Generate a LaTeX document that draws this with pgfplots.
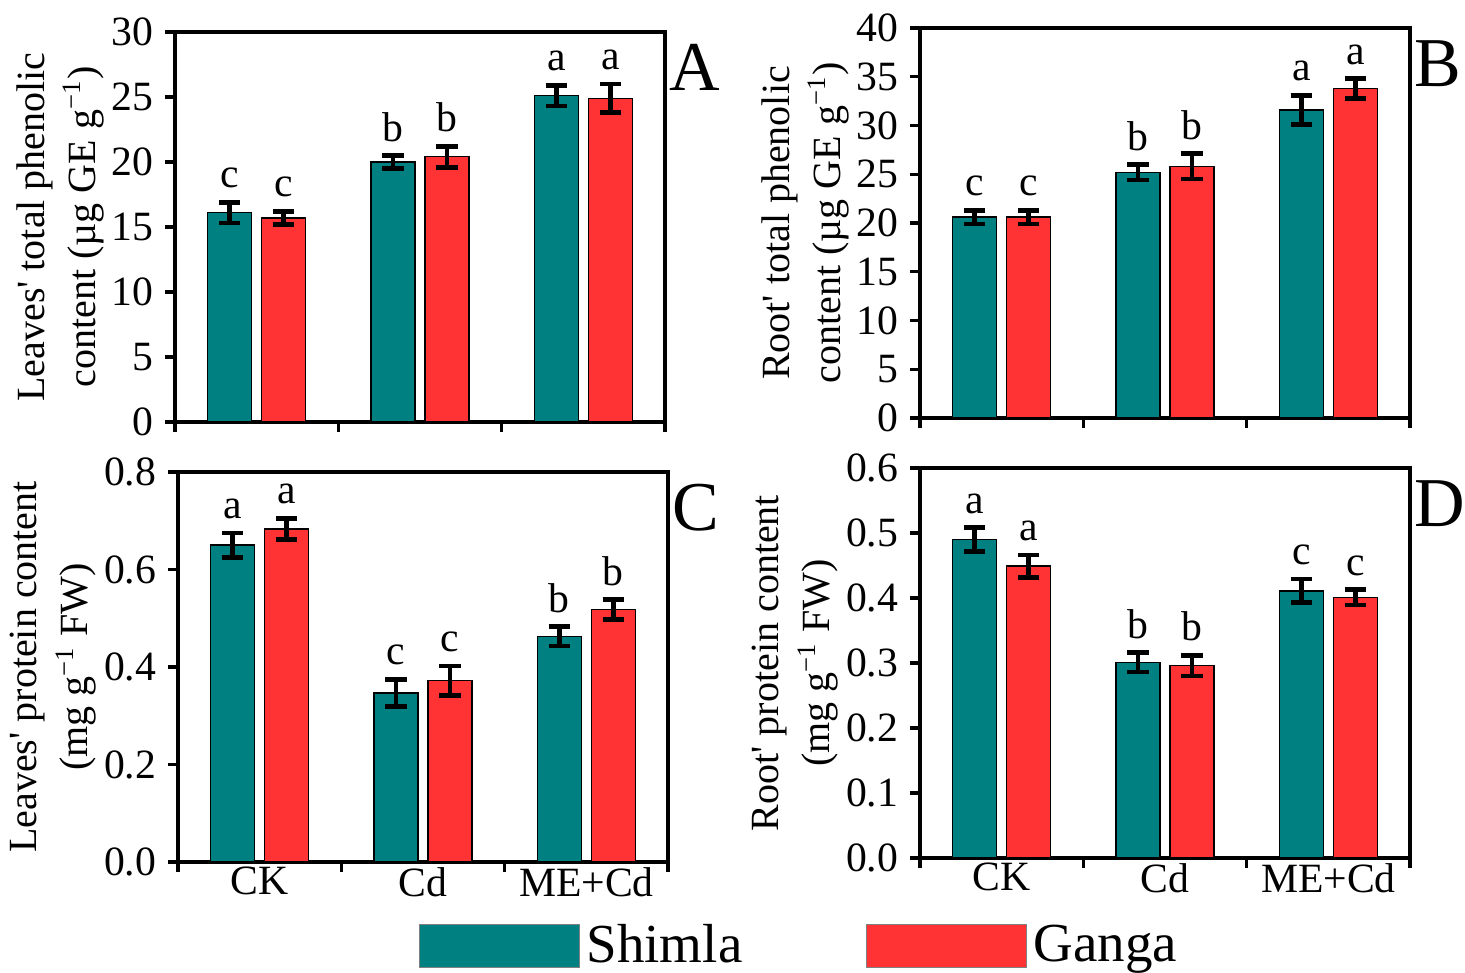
\documentclass[border=0pt]{standalone}
\usepackage{fontspec}
\setmainfont{Liberation Serif}
\usepackage{pgfplots}
\pgfplotsset{compat=1.18}
\definecolor{shimla}{RGB}{0,128,128}
\definecolor{ganga}{RGB}{255,51,51}

\pgfplotsset{
  panel/.style={
    scale only axis, width=147pt, height=117pt,
    ybar, bar width=0.27,
    xmin=0.5, xmax=3.5, ymin=0,
    axis line style={line width=1pt},
    every tick/.style={black, line width=1pt},
    major tick length=3pt,
    tick align=outside, xtick pos=bottom, ytick pos=left,
    xtick={0.5,1.5,2.5,3.5}, xticklabels={},
    tick label style={font=\fontsize{12.5}{14}\selectfont},
    /pgf/number format/assume math mode=true,
    ylabel style={font=\fontsize{12}{15.3}\selectfont, align=center},
    ylabel shift=-4.5pt,
    clip=false,
    error bars/y dir=both, error bars/y explicit,
    error bars/error bar style={line width=1.4pt, black},
    error bars/error mark options={rotate=90, mark size=3.2pt, line width=1.4pt, black},
  },
  catlabels/.style={
    extra x ticks={1,2,3}, extra x tick labels={CK,Cd,ME+Cd},
    extra x tick style={major tick length=0pt, tick label style={yshift=2pt}},
  },
  sh/.style={fill=shimla, draw=black, line width=0.4pt, bar shift=-0.165},
  ga/.style={fill=ganga, draw=black, line width=0.4pt, bar shift=0.165},
}
\newcommand{\lab}[3]{\node[anchor=south, inner sep=1.5pt, yshift=2.5pt, font=\fontsize{12.5}{14}\selectfont] at (axis cs:#1,#2) {#3};}
\newcommand{\panel}[1]{\node[anchor=north west, font=\fontsize{21}{24}\selectfont, inner sep=0pt] at (rel axis cs:1.008,0.97) {#1};}
\newcommand{\q}{\textquotesingle}

\begin{document}
\begin{tikzpicture}
\path[use as bounding box] (0,0) rectangle (439.5pt,291.9pt);

% A
\begin{axis}[panel, at={(52.5pt,165.3pt)}, anchor=south west,
  ymax=30, ytick={0,5,...,30},
  ylabel={Leaves\q{} total phenolic\\content (µg GE g\textsuperscript{−1})}]
\addplot[sh] coordinates {(1,16.1) +- (0,0.8) (2,20.0) +- (0,0.5) (3,25.1) +- (0,0.8)};
\addplot[ga] coordinates {(1,15.7) +- (0,0.5) (2,20.4) +- (0,0.8) (3,24.9) +- (0,1.1)};
\lab{0.835}{16.9}{c}\lab{1.165}{16.2}{c}
\lab{1.835}{20.5}{b}\lab{2.165}{21.2}{b}
\lab{2.835}{25.9}{a}\lab{3.165}{26.0}{a}
\panel{A}
\end{axis}

% B
\begin{axis}[panel, at={(276pt,166.5pt)}, anchor=south west,
  ymax=40, ytick={0,5,...,40},
  ylabel={Root\q{} total phenolic\\content (µg GE g\textsuperscript{−1})}]
\addplot[sh] coordinates {(1,20.6) +- (0,0.7) (2,25.2) +- (0,0.8) (3,31.6) +- (0,1.5)};
\addplot[ga] coordinates {(1,20.6) +- (0,0.7) (2,25.8) +- (0,1.3) (3,33.8) +- (0,1.0)};
\lab{0.835}{21.3}{c}\lab{1.165}{21.3}{c}
\lab{1.835}{26.0}{b}\lab{2.165}{27.1}{b}
\lab{2.835}{33.1}{a}\lab{3.165}{34.8}{a}
\panel{B}
\end{axis}

% C
\begin{axis}[panel, catlabels, at={(53.4pt,33.3pt)}, anchor=south west,
  ymax=0.8, ytick={0,0.2,...,0.8},
  yticklabel style={/pgf/number format/.cd, fixed, fixed zerofill, precision=1},
  ylabel={Leaves\q{} protein content\\(mg g\textsuperscript{−1} FW)},
  legend style={at={(1.272,-0.215)}, anchor=center, draw=none, fill=none,
    legend columns=2, font=\fontsize{16.5}{18}\selectfont,
    /tikz/every even column/.append style={column sep=35pt}},
]
\addplot[sh, legend image code/.code={\filldraw[fill=shimla, draw=black!50, line width=0.4pt] (0pt,-6.5pt) rectangle (48pt,6.5pt);}]
  coordinates {(1,0.650) +- (0,0.025) (2,0.347) +- (0,0.028) (3,0.463) +- (0,0.020)};
\addplot[ga, legend image code/.code={\filldraw[fill=ganga, draw=black!50, line width=0.4pt] (0pt,-6.5pt) rectangle (48pt,6.5pt);}]
  coordinates {(1,0.683) +- (0,0.022) (2,0.372) +- (0,0.030) (3,0.518) +- (0,0.020)};
\legend{Shimla,Ganga}
\lab{0.835}{0.675}{a}\lab{1.165}{0.705}{a}
\lab{1.835}{0.375}{c}\lab{2.165}{0.402}{c}
\lab{2.835}{0.483}{b}\lab{3.165}{0.538}{b}
\panel{C}
\end{axis}

% D
\begin{axis}[panel, catlabels, at={(276pt,34.5pt)}, anchor=south west,
  ymax=0.6, ytick={0,0.1,...,0.6},
  yticklabel style={/pgf/number format/.cd, fixed, fixed zerofill, precision=1},
  ylabel={Root\q{} protein content\\(mg g\textsuperscript{−1} FW)}]
\addplot[sh] coordinates {(1,0.490) +- (0,0.018) (2,0.301) +- (0,0.015) (3,0.411) +- (0,0.018)};
\addplot[ga] coordinates {(1,0.449) +- (0,0.017) (2,0.296) +- (0,0.016) (3,0.401) +- (0,0.012)};
\lab{0.835}{0.508}{a}\lab{1.165}{0.466}{a}
\lab{1.835}{0.316}{b}\lab{2.165}{0.312}{b}
\lab{2.835}{0.429}{c}\lab{3.165}{0.413}{c}
\panel{D}
\end{axis}
\end{tikzpicture}
\end{document}
